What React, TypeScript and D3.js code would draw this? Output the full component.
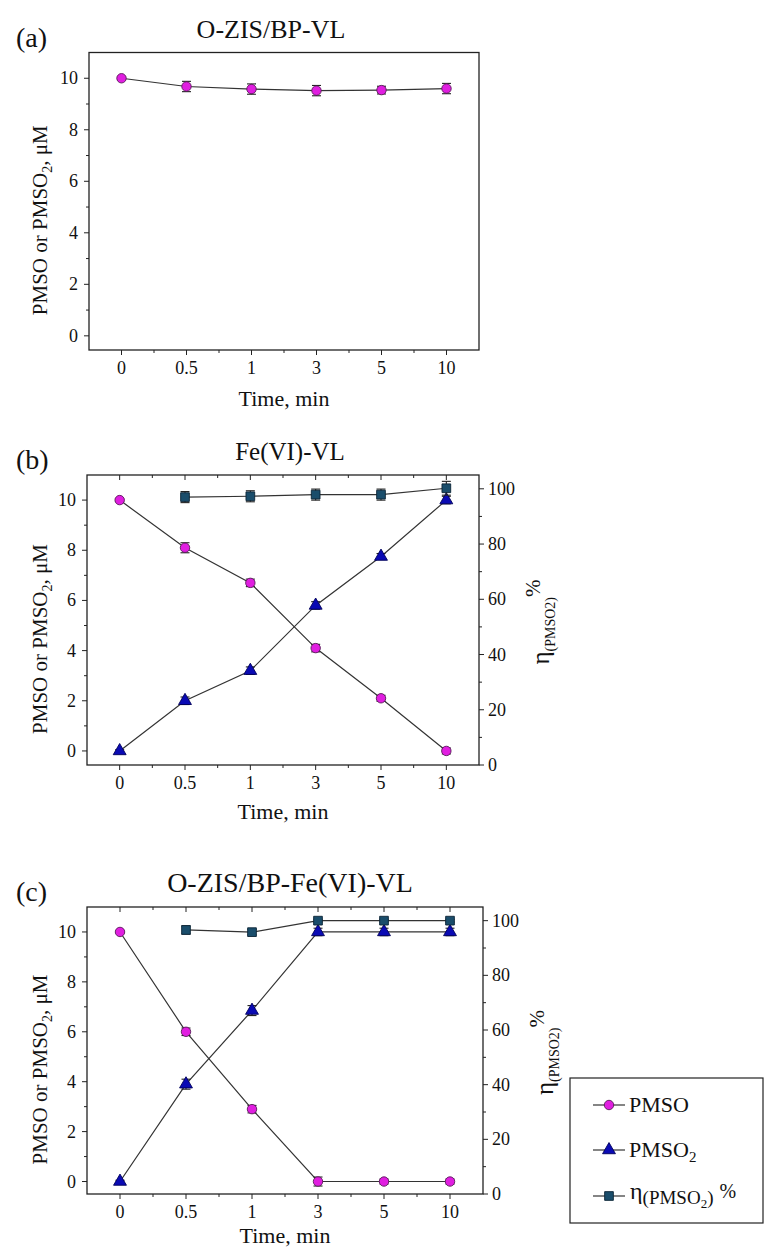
import React from "react";
import * as d3 from "d3";

// time points (categorical axis)
const timeLabels = ["0", "0.5", "1", "3", "5", "10"];
const etaTimes = timeLabels.slice(1);

// (a) O-ZIS/BP-VL
const pmsoA = [10, 9.68, 9.58, 9.52, 9.54, 9.6];
const pmsoErrA = [0.05, 0.2, 0.2, 0.2, 0.15, 0.2];

// (b) Fe(VI)-VL
const pmsoB = [10, 8.1, 6.7, 4.1, 2.1, 0];
const pmsoErrB = [0.05, 0.2, 0.15, 0.15, 0.12, 0.12];
const pmso2B = [0, 2.0, 3.2, 5.8, 7.75, 10.0];
const pmso2ErrB = [0.05, 0.15, 0.15, 0.15, 0.12, 0.15];
const etaB = [97.0, 97.3, 97.9, 97.9, 100.2];
const etaErrB = [2, 2, 2, 2, 2.5];

// (c) O-ZIS/BP-Fe(VI)-VL
const pmsoC = [10, 6.0, 2.9, 0, 0, 0];
const pmsoErrC = [0.05, 0.15, 0.15, 0.18, 0.1, 0.1];
const pmso2C = [0, 3.9, 6.85, 10, 10, 10];
const pmso2ErrC = [0.05, 0.2, 0.2, 0.15, 0.15, 0.15];
const etaC = [96.6, 95.8, 100, 100, 100];
const etaErrC = [1.5, 1, 0.5, 0.5, 0.5];

const leftTicks = [0, 2, 4, 6, 8, 10];
const rightTicks = [0, 20, 40, 60, 80, 100];

const FONT = "'Liberation Serif', 'DejaVu Serif', serif";
const LINE = "#333";

const styles = {
  pmso: { fill: "#e01ee0", stroke: "#5a1a5a", shape: d3.symbolCircle, size: 70 },
  pmso2: { fill: "#0a0ab4", stroke: "#00005a", shape: d3.symbolTriangle, size: 72 },
  eta: { fill: "#1a4d6b", stroke: "#0b2436", shape: d3.symbolSquare, size: 76 },
};

type Series = {
  key: "pmso" | "pmso2" | "eta";
  times: string[];
  values: number[];
  errs: number[];
  right?: boolean;
};

type PanelProps = {
  tag: string;
  title: string;
  titleX: number;
  titleSize: number;
  box: { left: number; top: number; right: number; bottom: number };
  xTitleGap: number;
  yMin: number;
  series: Series[];
  dual: boolean;
};

const Marker = ({ k, x, y }: { k: Series["key"]; x: number; y: number }) => {
  const s = styles[k];
  const d = d3.symbol().type(s.shape).size(s.size)() || "";
  return (
    <path d={d} transform={`translate(${x},${y})`} fill={s.fill} stroke={s.stroke} strokeWidth={0.9} />
  );
};

const Panel = ({ tag, title, titleX, titleSize, box, xTitleGap, yMin, series, dual }: PanelProps) => {
  const { left, top, right, bottom } = box;
  const x = d3.scalePoint<string>().domain(timeLabels).range([left, right]).padding(0.5);
  const step = x.step();
  const y = d3.scaleLinear().domain([yMin, 11]).range([bottom, top]);
  const yR = d3.scaleLinear().domain([0, 105]).range([bottom, top]);
  const line = d3.line<[number, number]>();
  const midY = (top + bottom) / 2;

  return (
    <g fontFamily={FONT} fill="#111">
      <text x={titleX} y={top - 15} textAnchor="middle" fontSize={titleSize}>{title}</text>
      <text x={16} y={top - 6} fontSize={28}>{tag}</text>

      {/* series */}
      {series.map((s) => {
        const sc = s.right ? yR : y;
        const pts = s.values.map((v, i) => [x(s.times[i])!, sc(v)] as [number, number]);
        return (
          <g key={s.key}>
            <path d={line(pts) || ""} fill="none" stroke={LINE} strokeWidth={1.2} />
            {s.values.map((v, i) => {
              const px = x(s.times[i])!;
              const y1 = sc(v + s.errs[i]);
              const y2 = sc(v - s.errs[i]);
              return (
                <g key={i} stroke="#222" strokeWidth={1.1}>
                  <line x1={px} x2={px} y1={y1} y2={y2} />
                  <line x1={px - 4.5} x2={px + 4.5} y1={y1} y2={y1} />
                  <line x1={px - 4.5} x2={px + 4.5} y1={y2} y2={y2} />
                </g>
              );
            })}
            {s.values.map((v, i) => (
              <Marker key={"m" + i} k={s.key} x={x(s.times[i])!} y={sc(v)} />
            ))}
          </g>
        );
      })}

      {/* frame */}
      <rect x={left} y={top} width={right - left} height={bottom - top} fill="none" stroke="#222" strokeWidth={1.3} />

      {/* bottom axis */}
      {timeLabels.map((t, i) => (
        <g key={t}>
          <line x1={x(t)!} x2={x(t)!} y1={bottom} y2={bottom + 5} stroke="#222" />
          {dual && <line x1={x(t)!} x2={x(t)!} y1={top} y2={top + 5} stroke="#222" />}
          {i < timeLabels.length - 1 && (
            <>
              <line x1={x(t)! + step / 2} x2={x(t)! + step / 2} y1={bottom} y2={bottom + 3} stroke="#222" />
              {dual && <line x1={x(t)! + step / 2} x2={x(t)! + step / 2} y1={top} y2={top + 3} stroke="#222" />}
            </>
          )}
          <text x={x(t)!} y={bottom + 24} textAnchor="middle" fontSize={18}>{t}</text>
        </g>
      ))}
      <text x={(left + right) / 2} y={bottom + xTitleGap} textAnchor="middle" fontSize={22}>Time, min</text>

      {/* left axis */}
      {leftTicks.map((v) => (
        <g key={v}>
          <line x1={left - 5} x2={left} y1={y(v)} y2={y(v)} stroke="#222" />
          {v < 10 && <line x1={left - 3} x2={left} y1={y(v + 1)} y2={y(v + 1)} stroke="#222" />}
          <text x={left - 11} y={y(v) + 6} textAnchor="end" fontSize={18}>{v}</text>
        </g>
      ))}
      <text transform={`translate(47,${midY + 19}) rotate(-90)`} textAnchor="middle" fontSize={21}>
        PMSO or PMSO<tspan dy={5} fontSize={14}>2</tspan><tspan dy={-5}>, μM</tspan>
      </text>

      {/* right axis */}
      {dual && (
        <g>
          {rightTicks.map((v) => (
            <g key={v}>
              <line x1={right} x2={right + 5} y1={yR(v)} y2={yR(v)} stroke="#222" />
              {v < 100 && <line x1={right} x2={right + 3} y1={yR(v + 10)} y2={yR(v + 10)} stroke="#222" />}
              <text x={right + 9} y={yR(v) + 6} textAnchor="start" fontSize={18}>{v}</text>
            </g>
          ))}
          <text transform={`translate(${right + 70},${midY + 2}) rotate(-90)`} textAnchor="middle" fontSize={25}>
            η<tspan dy={6} fontSize={14}>(PMSO2)</tspan><tspan dy={-15} fontSize={21}>%</tspan>
          </text>
        </g>
      )}
    </g>
  );
};

const Legend = () => {
  const lx = 570;
  const ly = 1078;
  const rows: { k: Series["key"]; y: number }[] = [
    { k: "pmso", y: 1105 },
    { k: "pmso2", y: 1150 },
    { k: "eta", y: 1196 },
  ];
  return (
    <g fontFamily={FONT} fill="#111">
      <rect x={lx} y={ly} width={193} height={145} fill="#fff" stroke="#222" strokeWidth={1.2} />
      {rows.map((r) => (
        <g key={r.k}>
          <line x1={593} x2={625} y1={r.y} y2={r.y} stroke={LINE} strokeWidth={1.2} />
          <Marker k={r.k} x={609} y={r.y} />
        </g>
      ))}
      <text x={629} y={1112} fontSize={22}>PMSO</text>
      <text x={629} y={1157} fontSize={22}>
        PMSO<tspan dy={5} fontSize={15}>2</tspan>
      </text>
      <text x={630} y={1199} fontSize={24}>
        η<tspan dy={5} fontSize={19}>(PMSO</tspan><tspan dy={4} fontSize={13}>2</tspan><tspan dy={-4} fontSize={19}>)</tspan>
        <tspan dy={-6} dx={6} fontSize={20}>%</tspan>
      </text>
    </g>
  );
};

export default function App() {
  return (
    <svg width={764} height={1252} style={{ position: "absolute", left: 0, top: 0, background: "#fff" }}>
      <Panel
        tag="(a)"
        title="O-ZIS/BP-VL"
        titleX={271}
        titleSize={26}
        box={{ left: 89, top: 52.5, right: 479, bottom: 350 }}
        xTitleGap={56}
        yMin={-0.55}
        dual={false}
        series={[{ key: "pmso", times: timeLabels, values: pmsoA, errs: pmsoErrA }]}
      />
      <Panel
        tag="(b)"
        title="Fe(VI)-VL"
        titleX={290}
        titleSize={25}
        box={{ left: 87, top: 475, right: 479, bottom: 765 }}
        xTitleGap={54}
        yMin={-0.56}
        dual={true}
        series={[
          { key: "pmso", times: timeLabels, values: pmsoB, errs: pmsoErrB },
          { key: "pmso2", times: timeLabels, values: pmso2B, errs: pmso2ErrB },
          { key: "eta", times: etaTimes, values: etaB, errs: etaErrB, right: true },
        ]}
      />
      <Panel
        tag="(c)"
        title="O-ZIS/BP-Fe(VI)-VL"
        titleX={290}
        titleSize={28}
        box={{ left: 87, top: 907, right: 483, bottom: 1194 }}
        xTitleGap={49}
        yMin={-0.5}
        dual={true}
        series={[
          { key: "pmso", times: timeLabels, values: pmsoC, errs: pmsoErrC },
          { key: "pmso2", times: timeLabels, values: pmso2C, errs: pmso2ErrC },
          { key: "eta", times: etaTimes, values: etaC, errs: etaErrC, right: true },
        ]}
      />
      <Legend />
    </svg>
  );
}
